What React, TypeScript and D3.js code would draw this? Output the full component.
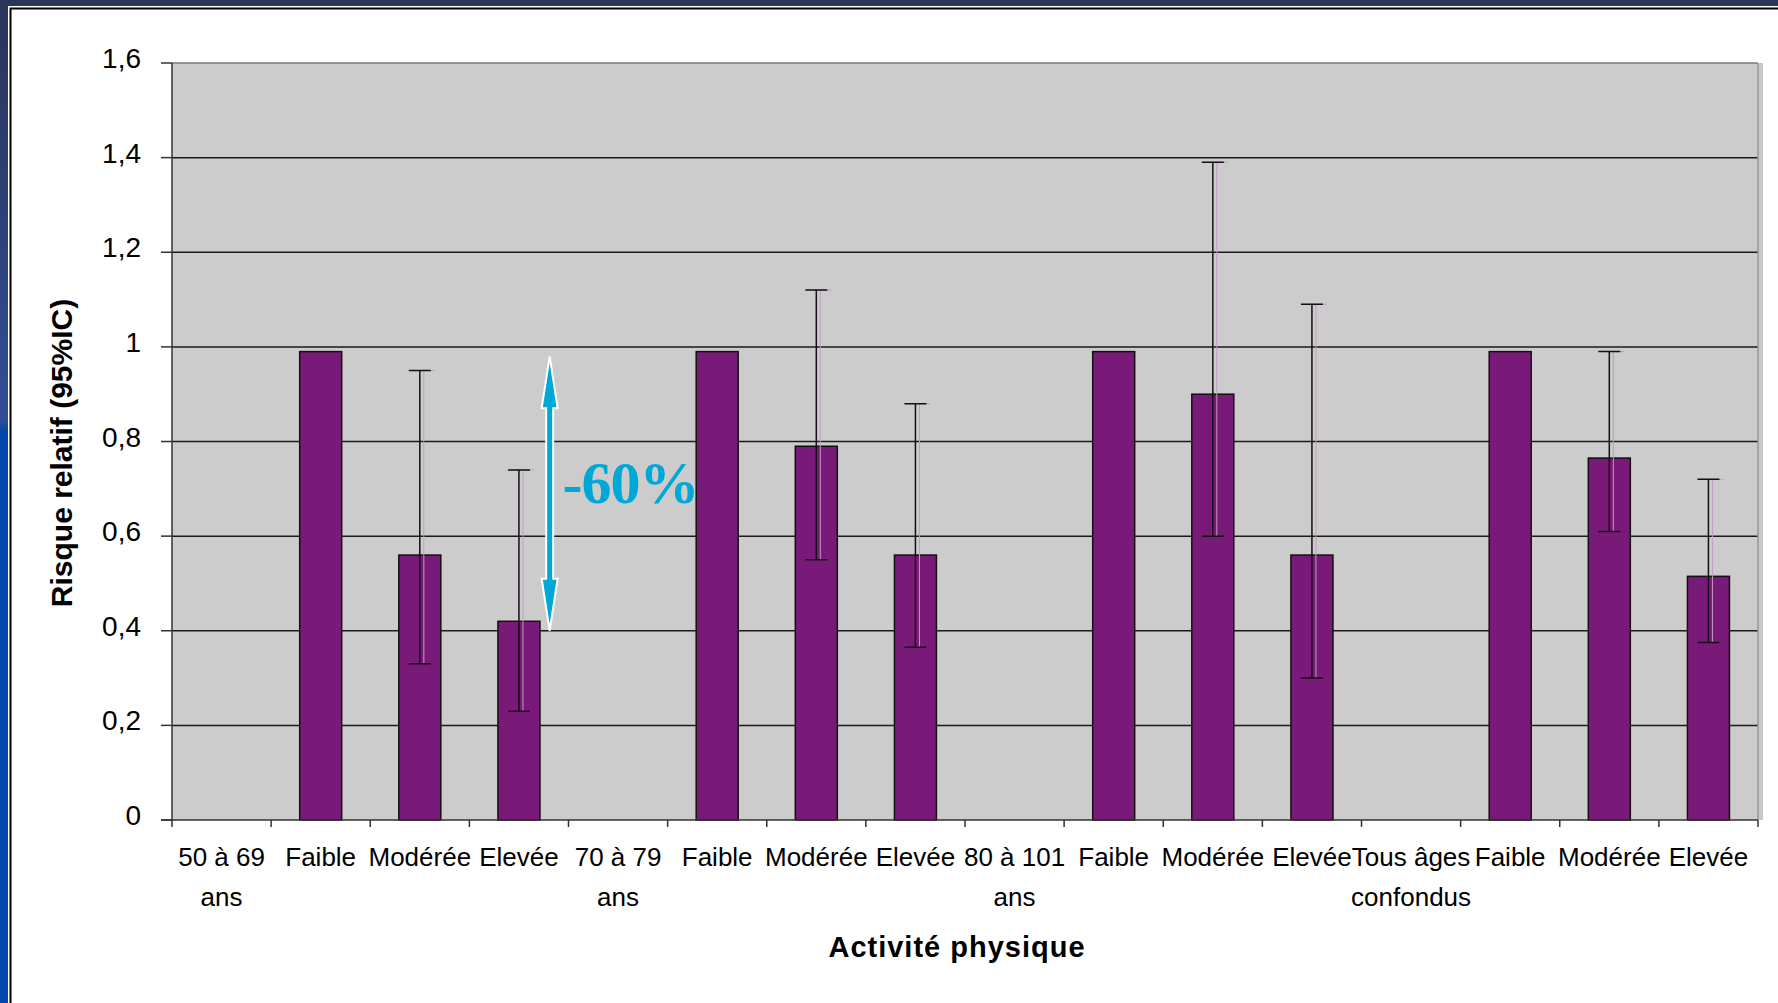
import React, { useEffect, useRef } from 'react';
import * as d3 from 'd3';

// categories (label lines separated by "\n")
const categories: string[] = [
	"50 à 69\nans", "Faible", "Modérée", "Elevée",
	"70 à 79\nans", "Faible", "Modérée", "Elevée",
	"80 à 101\nans", "Faible", "Modérée", "Elevée",
	"Tous âges\nconfondus", "Faible", "Modérée", "Elevée"
];

// relative risk
const values: (number | null)[] = [
	null, 0.99, 0.56, 0.42,
	null, 0.99, 0.79, 0.56,
	null, 0.99, 0.90, 0.56,
	null, 0.99, 0.765, 0.515
];

// 95% CI
const lower: (number | null)[] = [
	null, null, 0.33, 0.23,
	null, null, 0.55, 0.365,
	null, null, 0.60, 0.30,
	null, null, 0.61, 0.375
];
const upper: (number | null)[] = [
	null, null, 0.95, 0.74,
	null, null, 1.12, 0.88,
	null, null, 1.39, 1.09,
	null, null, 0.99, 0.72
];

const yTicks: number[] = [0, 0.2, 0.4, 0.6, 0.8, 1, 1.2, 1.4, 1.6];

// annotation arrow (from / to, in risk units)
const arrowFrom = 0.4;
const arrowTo = 0.98;
const arrowLabel = "-60%";

const W = 1778;
const H = 1003;
const FONT = "'Liberation Sans', Arial, sans-serif";

const drawChart = (el: SVGSVGElement) => {
	const svg = d3.select(el);
	svg.selectAll("*").remove();

	const margin = { left: 172, right: 20, top: 63, bottom: 183 };

	// frame / background
	const defs = svg.append("defs");
	const grad = defs.append("linearGradient")
		.attr("id", "sideGrad")
		.attr("x1", 0).attr("x2", 0).attr("y1", 0).attr("y2", 1);
	grad.append("stop").attr("offset", "0").attr("stop-color", "#2b3459");
	grad.append("stop").attr("offset", "0.42").attr("stop-color", "#2f4e98");
	grad.append("stop").attr("offset", "0.43").attr("stop-color", "#0047ab");
	grad.append("stop").attr("offset", "1").attr("stop-color", "#0047ab");

	svg.append("rect").attr("x", 0).attr("y", 0).attr("width", W).attr("height", H).attr("fill", "url(#sideGrad)");
	svg.append("rect").attr("x", 0).attr("y", 0).attr("width", W).attr("height", 7).attr("fill", "#2b3459");
	svg.append("rect").attr("x", 8).attr("y", 6).attr("width", W).attr("height", H).attr("fill", "#ffffff");
	svg.append("path")
		.attr("d", `M10.5,${H} V8.5 H${W}`)
		.attr("fill", "none")
		.attr("stroke", "#000")
		.attr("stroke-width", 2);

	const x0 = margin.left;
	const x1 = W - margin.right;
	const yTop = margin.top;
	const yBot = H - margin.bottom;

	const x = d3.scaleBand<number>()
		.domain(categories.map((_, i) => i))
		.range([x0, x1])
		.paddingInner(0)
		.paddingOuter(0);

	const y = d3.scaleLinear()
		.domain([0, 1.6])
		.range([yBot, yTop]);

	// plot area
	svg.append("rect")
		.attr("x", x1)
		.attr("y", yTop)
		.attr("width", 5)
		.attr("height", yBot - yTop)
		.attr("fill", "#c8c8c8");
	svg.append("rect")
		.attr("x", x0)
		.attr("y", yTop)
		.attr("width", x1 - x0)
		.attr("height", yBot - yTop)
		.attr("fill", "#cccccc");

	// gridlines
	svg.append("g")
		.selectAll("line")
		.data(yTicks.filter(t => t > 0))
		.join("line")
		.attr("x1", x0)
		.attr("x2", x1)
		.attr("y1", d => y(d))
		.attr("y2", d => y(d))
		.attr("stroke", d => d === 1.6 ? "#7a7a7a" : "#1a1a1a")
		.attr("stroke-width", 1.5);

	svg.append("line")
		.attr("x1", x1).attr("x2", x1)
		.attr("y1", yTop).attr("y2", yBot)
		.attr("stroke", "#9a9a9a")
		.attr("stroke-width", 1.5);

	// y axis
	const yAxis = svg.append("g");
	yAxis.append("line")
		.attr("x1", x0).attr("x2", x0)
		.attr("y1", yTop).attr("y2", yBot)
		.attr("stroke", "#333")
		.attr("stroke-width", 1.5);
	yAxis.selectAll("line.tick")
		.data(yTicks)
		.join("line")
		.attr("class", "tick")
		.attr("x1", x0 - 11)
		.attr("x2", x0)
		.attr("y1", d => y(d))
		.attr("y2", d => y(d))
		.attr("stroke", "#333")
		.attr("stroke-width", 1.5);
	yAxis.selectAll("text")
		.data(yTicks)
		.join("text")
		.attr("x", 141)
		.attr("y", d => y(d) + 5)
		.attr("text-anchor", "end")
		.style("font-family", FONT)
		.style("font-size", "28px")
		.style("fill", "#000")
		.text(d => String(+d.toFixed(1)).replace(".", ","));

	// bars
	const barW = 42;
	const idx = categories.map((_, i) => i);
	svg.append("g")
		.selectAll("rect")
		.data(idx.filter(i => values[i] !== null))
		.join("rect")
		.attr("x", i => (x(i) as number) + x.bandwidth() / 2 - barW / 2)
		.attr("y", i => y(values[i] as number))
		.attr("width", barW)
		.attr("height", i => yBot - y(values[i] as number))
		.attr("fill", "#7a1a78")
		.attr("stroke", "#111")
		.attr("stroke-width", 1.5);

	// error bars
	const errIdx = idx.filter(i => lower[i] !== null && upper[i] !== null);
	const cx = (i: number) => (x(i) as number) + x.bandwidth() / 2;
	const err = svg.append("g");
	// faint pink shadow
	err.selectAll("path.shadow")
		.data(errIdx)
		.join("path")
		.attr("class", "shadow")
		.attr("d", i => `M${cx(i) + 4},${y(upper[i] as number)} V${y(lower[i] as number)} M${cx(i) - 7},${y(upper[i] as number)} H${cx(i) + 15}`)
		.attr("fill", "none")
		.attr("stroke", "#c49ac4")
		.attr("stroke-width", 1);
	err.selectAll("path.bar")
		.data(errIdx)
		.join("path")
		.attr("class", "bar")
		.attr("d", i => {
			const c = cx(i);
			const yu = y(upper[i] as number);
			const yl = y(lower[i] as number);
			return `M${c},${yu} V${yl} M${c - 11},${yu} H${c + 11} M${c - 11},${yl} H${c + 11}`;
		})
		.attr("fill", "none")
		.attr("stroke", "#111")
		.attr("stroke-width", 1.5);

	// x axis
	const xAxis = svg.append("g");
	xAxis.append("line")
		.attr("x1", x0 - 11).attr("x2", x1)
		.attr("y1", yBot).attr("y2", yBot)
		.attr("stroke", "#333")
		.attr("stroke-width", 1.5);
	xAxis.selectAll("line.tick")
		.data(d3.range(categories.length + 1))
		.join("line")
		.attr("class", "tick")
		.attr("x1", i => x0 + i * x.bandwidth())
		.attr("x2", i => x0 + i * x.bandwidth())
		.attr("y1", yBot)
		.attr("y2", yBot + 7)
		.attr("stroke", "#333")
		.attr("stroke-width", 1.5);
	const labels = xAxis.selectAll("text")
		.data(idx)
		.join("text")
		.attr("text-anchor", "middle")
		.style("font-family", FONT)
		.style("font-size", "26px")
		.style("fill", "#000");
	labels.each(function (i) {
		const t = d3.select(this);
		categories[i].split("\n").forEach((line, k) => {
			t.append("tspan")
				.attr("x", cx(i))
				.attr("y", 866 + k * 40)
				.text(line);
		});
	});

	// axis titles
	svg.append("text")
		.attr("x", 957)
		.attr("y", 957)
		.attr("text-anchor", "middle")
		.style("font-family", FONT)
		.style("font-size", "29px")
		.style("font-weight", "bold")
		.style("letter-spacing", "1px")
		.style("fill", "#000")
		.text("Activité physique");

	svg.append("text")
		.attr("transform", "translate(72,453) rotate(-90)")
		.attr("text-anchor", "middle")
		.style("font-family", FONT)
		.style("font-size", "30px")
		.style("font-weight", "bold")
		.style("fill", "#000")
		.text("Risque relatif (95%IC)");

	// annotation: double arrow + label
	const ax = (x(3) as number) + x.bandwidth() * 0.81;
	const ya = y(arrowTo);
	const yb = y(arrowFrom);
	const hw = 8, hl = 52, sw = 3.5;
	const arrowPath = [
		`M${ax},${ya}`,
		`L${ax + hw},${ya + hl}`,
		`L${ax + sw},${ya + hl}`,
		`L${ax + sw},${yb - hl}`,
		`L${ax + hw},${yb - hl}`,
		`L${ax},${yb}`,
		`L${ax - hw},${yb - hl}`,
		`L${ax - sw},${yb - hl}`,
		`L${ax - sw},${ya + hl}`,
		`L${ax - hw},${ya + hl}`,
		"Z"
	].join(" ");
	svg.append("path")
		.attr("d", arrowPath)
		.attr("fill", "#00a8d8")
		.attr("stroke", "#ffffff")
		.attr("stroke-width", 2)
		.attr("stroke-linejoin", "miter");

	svg.append("text")
		.attr("x", (x(4) as number) - 6)
		.attr("y", y(0.67))
		.style("font-family", "'Liberation Serif', 'Times New Roman', serif")
		.style("font-size", "60px")
		.style("font-weight", "bold")
		.style("letter-spacing", "-1px")
		.style("fill", "#00a8d8")
		.text(arrowLabel);
};

export default function App() {
	const ref = useRef<SVGSVGElement>(null);
	useEffect(() => {
		if (ref.current) drawChart(ref.current);
	}, []);
	return (
		<svg
			ref={ref}
			width={W}
			height={H}
			style={{ position: "fixed", left: 0, top: 0, display: "block" }}
		/>
	);
}
